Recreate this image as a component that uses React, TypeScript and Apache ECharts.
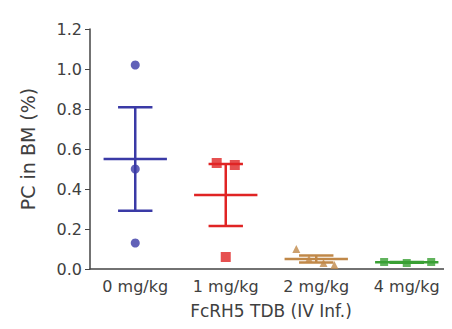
import React, { useEffect, useRef } from "react";
import * as echarts from "echarts";

const categories = ["0 mg/kg", "1 mg/kg", "2 mg/kg", "4 mg/kg"];
const group0 = [1.02, 0.5, 0.13];
const group1 = [0.53, 0.52, 0.06];
const group2 = [0.1, 0.05, 0.03, 0.02];
const group3 = [0.035, 0.03, 0.035];
const jitter0 = [0, 0, 0];
const jitter1 = [-0.1, 0.1, 0];
const jitter2 = [-0.22, -0.08, 0.08, 0.2];
const jitter3 = [-0.25, 0, 0.27];

const colors = ["#3a3aa6", "#e02424", "#c08848", "#3aa034"];
const symbols = ["circle", "rect", "triangle", "rect"];
const groups = [group0, group1, group2, group3];
const jitters = [jitter0, jitter1, jitter2, jitter3];

function stats(v: number[]) {
  const n = v.length;
  const m = v.reduce((a, b) => a + b, 0) / n;
  const sd = Math.sqrt(v.reduce((a, b) => a + (b - m) * (b - m), 0) / (n - 1));
  const sem = sd / Math.sqrt(n);
  return [m, m - sem, m + sem];
}

export default function App() {
  const ref = useRef<HTMLDivElement>(null);
  useEffect(() => {
    const chart = echarts.init(ref.current!, null, { renderer: "svg" });
    const font = "DejaVu Sans, sans-serif";
    const scatterSeries = groups.map((g, gi) => ({
      type: "scatter",
      xAxisIndex: 1,
      symbol: symbols[gi],
      symbolSize: gi === 0 ? 9 : gi === 1 ? 10 : 8,
      itemStyle: { color: colors[gi] },
      data: g.map((v, i) => [gi + jitters[gi][i], v]),
      z: 3,
    }));
    const errData = groups.map((g, gi) => {
      const [m, lo, hi] = stats(g);
      return [gi, m, lo, hi];
    });
    chart.setOption({
      animation: false,
      grid: { left: 90, right: 0, top: 29, bottom: 60 },
      xAxis: [
        {
          type: "category",
          data: categories,
          axisLine: { onZero: false, lineStyle: { color: "#444", width: 1.5 } },
          axisTick: { alignWithLabel: true, length: 4, lineStyle: { color: "#444" } },
          axisLabel: { color: "#404040", fontSize: 16, fontFamily: font, margin: 9, interval: 0 },
          name: "FcRH5 TDB (IV Inf.)",
          nameLocation: "middle",
          nameGap: 33,
          nameTextStyle: { color: "#404040", fontSize: 17, fontFamily: font },
        },
        { type: "value", min: -0.5, max: 3.5, show: false },
      ],
      yAxis: {
        type: "value",
        min: 0,
        max: 1.2,
        interval: 0.2,
        splitLine: { show: false },
        axisLine: { show: true, onZero: false, lineStyle: { color: "#444", width: 1.5 } },
        axisTick: { show: true, length: 5, lineStyle: { color: "#444" } },
        axisLabel: {
          color: "#404040",
          fontSize: 16,
          fontFamily: font,
          margin: 8,
          formatter: (v: number) => v.toFixed(1),
        },
        name: "PC in BM (%)",
        nameLocation: "middle",
        nameGap: 53,
        nameTextStyle: { color: "#404040", fontSize: 19, fontFamily: font },
      },
      series: [
        {
          type: "custom",
          xAxisIndex: 1,
          z: 2,
          data: errData,
          renderItem: (params: any, api: any) => {
            const gi = params.dataIndex;
            const x = api.value(0);
            const m = api.coord([x, api.value(1)]);
            const lo = api.coord([x, api.value(2)]);
            const hi = api.coord([x, api.value(3)]);
            const band = api.size([1, 0])[0];
            const mw = band * 0.35;
            const cw = band * 0.19;
            const st = { stroke: colors[gi], lineWidth: 2.5 };
            return {
              type: "group",
              children: [
                { type: "line", shape: { x1: m[0] - mw, y1: m[1], x2: m[0] + mw, y2: m[1] }, style: st },
                { type: "line", shape: { x1: lo[0], y1: lo[1], x2: hi[0], y2: hi[1] }, style: st },
                { type: "line", shape: { x1: lo[0] - cw, y1: lo[1], x2: lo[0] + cw, y2: lo[1] }, style: st },
                { type: "line", shape: { x1: hi[0] - cw, y1: hi[1], x2: hi[0] + cw, y2: hi[1] }, style: st },
              ],
            };
          },
        },
        ...scatterSeries,
      ],
    });
    return () => chart.dispose();
  }, []);
  return <div ref={ref} style={{ width: 452, height: 329, margin: -8 }} />;
}
